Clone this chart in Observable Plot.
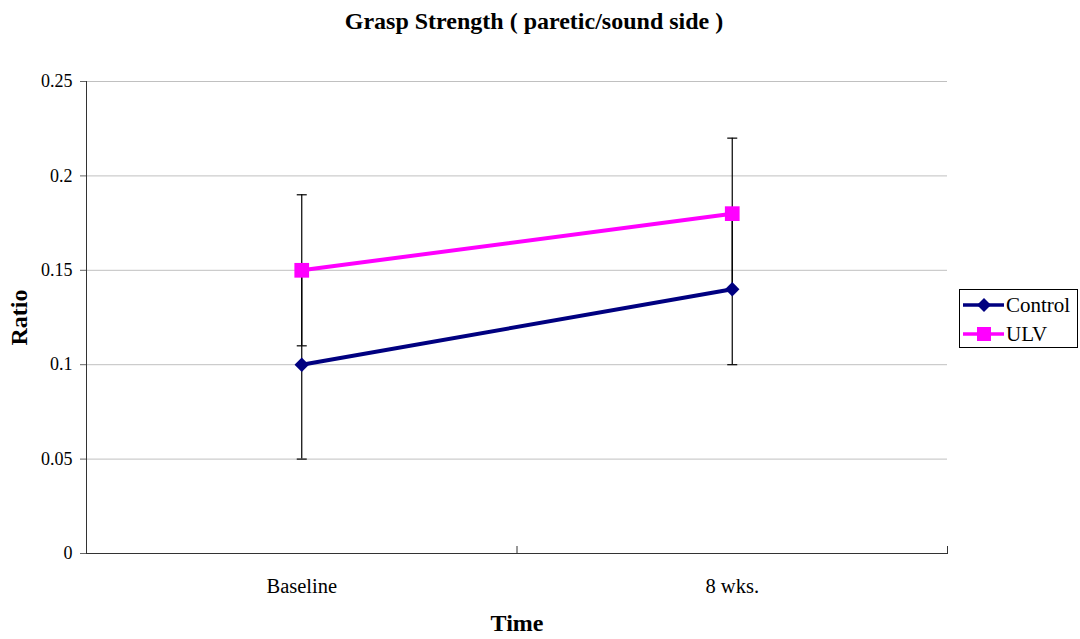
<!DOCTYPE html>
<html>
<head>
<meta charset="utf-8">
<script src="https://cdn.jsdelivr.net/npm/d3@7"></script>
<script src="https://cdn.jsdelivr.net/npm/@observablehq/plot@0.6"></script>
<style>
  body { margin: 0; background: #fff; }
  #wrap { position: relative; width: 1080px; height: 639px; font-family: "Liberation Serif", "Times New Roman", serif; }
  #wrap svg, #wrap svg text { font-family: "Liberation Serif", "Times New Roman", serif !important; }
  #title { position: absolute; left: 0; width: 1068px; top: 8px; text-align: center; font-weight: bold; font-size: 24px; line-height: 26px; color: #000; }
  #legend { position: absolute; left: 959px; top: 289px; width: 119px; height: 59px; border: 1px solid #000; box-sizing: border-box; background: #fff; }
  #legend .row { position: absolute; left: 0; height: 24px; display: flex; align-items: center; font-size: 21px; color: #000; }
</style>
</head>
<body>
<div id="wrap"></div>
<script>
const titleText = "Grasp Strength ( paretic/sound side )";
const categories = ["Baseline", "8 wks."];
const seriesNames = ["Control", "ULV"];
const controlMean = [0.10, 0.14];
const controlLow = [0.05, 0.10];
const controlHigh = [0.15, 0.18];
const ulvMean = [0.15, 0.18];
const ulvLow = [0.11, 0.14];
const ulvHigh = [0.19, 0.22];
const yTicks = [0, 0.05, 0.1, 0.15, 0.2, 0.25];
const colors = {Control: "#000080", ULV: "#ff00ff"};

const rows = [];
categories.forEach((c, i) => {
  rows.push({series: "Control", cat: c, i: i + 0.5, mean: controlMean[i], low: controlLow[i], high: controlHigh[i]});
  rows.push({series: "ULV", cat: c, i: i + 0.5, mean: ulvMean[i], low: ulvLow[i], high: ulvHigh[i]});
});

const capSymbol = { draw(context, size) { const r = 5; context.moveTo(-r, 0); context.lineTo(r, 0); } };
const font = "'Liberation Serif', 'Times New Roman', serif";

const plot = Plot.plot({
  width: 1080,
  height: 639,
  marginLeft: 86,
  marginRight: 133,
  marginTop: 81,
  marginBottom: 86,
  style: {fontFamily: font, fontSize: "16px", color: "#000", background: "#fff"},
  x: {type: "linear", domain: [0, categories.length]},
  y: {domain: [0, 0.25]},
  marks: [
    Plot.gridY(yTicks, {stroke: "#c0c0c0", strokeOpacity: 1}),
    Plot.axisY(yTicks, {tickSize: 6, tickPadding: 8, tickFormat: d => String(d), label: null, stroke: "#666", fontSize: 18, fontFamily: font}),
    Plot.axisX([0, 1, 2], {tickSize: -7, tickFormat: () => "", label: null, stroke: "#333"}),
    Plot.axisX(categories.map((c, i) => i + 0.5), {tickSize: 0, tickPadding: 25, tickFormat: d => categories[Math.floor(d)], label: null, fontSize: 20.5, fontFamily: font}),
    Plot.frame({anchor: "left", stroke: "#333"}),
    Plot.frame({anchor: "bottom", stroke: "#333"}),
    Plot.ruleX(rows, {x: "i", y1: "low", y2: "high", stroke: "#000", strokeWidth: 1.2}),
    Plot.dot(rows, {x: "i", y: "low", symbol: capSymbol, stroke: "#000", strokeWidth: 1.2, r: 3}),
    Plot.dot(rows, {x: "i", y: "high", symbol: capSymbol, stroke: "#000", strokeWidth: 1.2, r: 3}),
    Plot.line(rows, {x: "i", y: "mean", z: "series", stroke: d => colors[d.series], strokeWidth: 4}),
    Plot.dot(rows.filter(d => d.series === "Control"), {x: "i", y: "mean", symbol: "diamond2", r: 6.5, fill: colors.Control, stroke: null}),
    Plot.dot(rows.filter(d => d.series === "ULV"), {x: "i", y: "mean", symbol: "square", r: 8.3, fill: colors.ULV, stroke: null}),
    Plot.text(["Time"], {frameAnchor: "bottom", dy: 77, text: d => d, fontWeight: "bold", fontSize: 24, fill: "#000", fontFamily: font}),
    Plot.text(["Ratio"], {frameAnchor: "left", dx: -67, rotate: -90, textAnchor: "middle", text: d => d, fontWeight: "bold", fontSize: 24, fill: "#000", fontFamily: font})
  ]
});
plot.style.overflow = "visible";
const wrap = document.getElementById("wrap");
wrap.appendChild(plot);

const title = document.createElement("div");
title.id = "title";
title.textContent = titleText;
wrap.appendChild(title);

// legend
const legend = document.createElement("div");
legend.id = "legend";
const mk = (name, top) => {
  const row = document.createElement("div");
  row.className = "row";
  row.style.top = top + "px";
  const sym = name === "Control"
    ? `<path d="M24,5 L31,12 L24,19 L17,12 Z" fill="${colors[name]}"/>`
    : `<rect x="17" y="5" width="14" height="14" fill="${colors[name]}"/>`;
  row.innerHTML = `<svg width="46" height="24" style="display:block"><line x1="3" y1="12" x2="44" y2="12" stroke="${colors[name]}" stroke-width="3.5"/>${sym}</svg><span>${name}</span>`;
  legend.appendChild(row);
};
seriesNames.forEach((n, k) => mk(n, 3 + k * 29));
wrap.appendChild(legend);
</script>
</body>
</html>
